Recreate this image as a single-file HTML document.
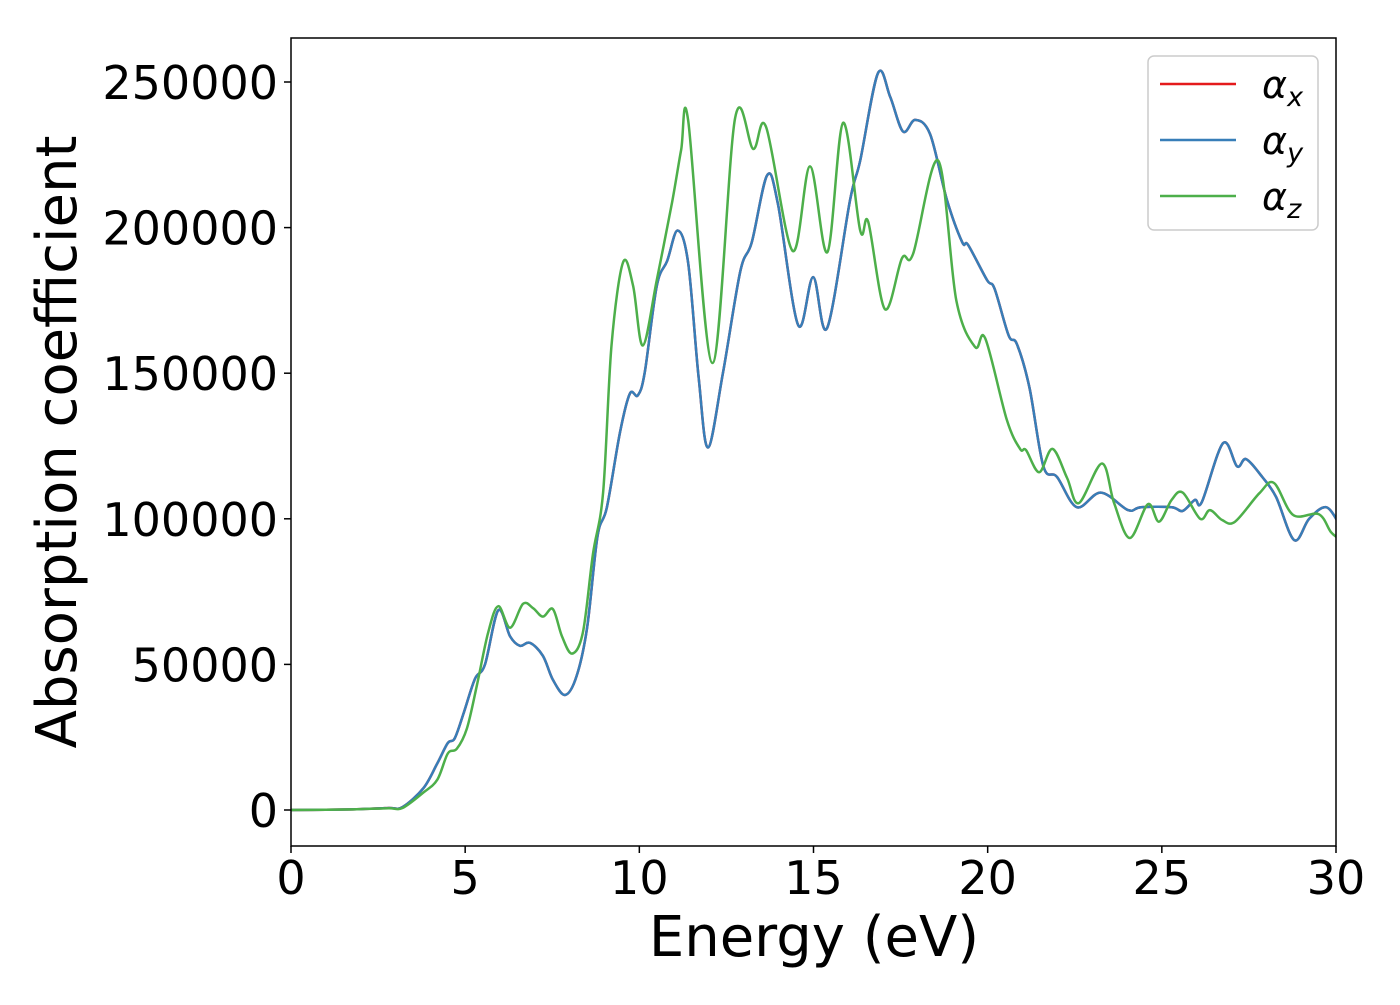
<!DOCTYPE html>
<html><head><meta charset="utf-8"><style>
html,body{margin:0;padding:0;background:#fff;}
svg text{font-family:"DejaVu Sans","Liberation Sans",sans-serif;fill:#000;}
</style></head><body>
<svg id="chart" width="1400" height="1000" viewBox="0 0 1400 1000" xmlns="http://www.w3.org/2000/svg">
<rect width="1400" height="1000" fill="#fff"/>
<g id="series"></g>
<g id="axes"></g>
<text x="814" y="956" font-size="56" text-anchor="middle">Energy (eV)</text>
<text transform="translate(76,442) rotate(-90)" font-size="56" text-anchor="middle">Absorption coefficient</text>
<g>
<rect x="1148" y="56" width="170" height="174" rx="6" fill="#fff" stroke="#ccc" stroke-width="1.5"/>
<g><line x1="1160" y1="84" x2="1236" y2="84" stroke="#e41a1c" stroke-width="2.5"/><text x="1262" y="98" font-size="38" font-style="italic">α<tspan font-size="27" dy="8">x</tspan></text></g>
<g><line x1="1160" y1="140" x2="1236" y2="140" stroke="#377eb8" stroke-width="2.5"/><text x="1262" y="154" font-size="38" font-style="italic">α<tspan font-size="27" dy="8">y</tspan></text></g>
<g><line x1="1160" y1="196" x2="1236" y2="196" stroke="#4daf4a" stroke-width="2.5"/><text x="1262" y="210" font-size="38" font-style="italic">α<tspan font-size="27" dy="8">z</tspan></text></g>
</g>
</svg>
<script>
const xTicks=[0,5,10,15,20,25,30];
const yTicks=[0,50000,100000,150000,200000,250000];
const eBlue=[0,1,2,2.8,3.2,3.8,4.2,4.5,4.7,4.95,5.28,5.57,5.95,6.29,6.57,6.86,7.23,7.52,7.87,8.2,8.5,8.8,9.07,9.45,9.73,9.96,10.16,10.5,10.8,11.1,11.4,11.7,11.97,12.4,12.9,13.23,13.67,13.98,14.56,14.99,15.39,16.05,16.34,16.85,17.2,17.57,17.92,18.35,18.83,19.27,19.44,19.98,20.2,20.6,20.84,21.2,21.6,21.99,22.56,23.25,24.03,24.4,25.28,25.6,25.95,26.15,26.76,27.16,27.42,27.88,28.28,28.8,29.23,29.72,30.1];
const vBlue=[0,0.1,0.3,0.7,1,7.5,16,23,24.6,33,45,50,68.6,59.6,56.4,57.4,53,44.7,39.5,46,62.6,94,104,130,143,142.4,150.6,180,188.6,199,188,149,124.5,150,185,195,218,208,166.5,183,165.5,209.5,223,253,245,233,237,232,209.5,195,194,182,179,163,160,145,118,114.4,104,109,103,104,104,102.7,106.5,105.8,126,118,120.5,114.4,107.5,92.7,100,104,98];
const eGreen=[0,1,2,2.8,3.2,3.8,4.2,4.5,4.76,5.05,5.34,5.66,5.95,6.29,6.66,6.95,7.23,7.52,7.78,8.07,8.38,8.67,8.96,9.2,9.53,9.82,10.1,10.5,10.94,11.2,11.4,12.1,12.75,13.27,13.64,14.4,14.9,15.4,15.85,16.34,16.57,17.05,17.54,17.86,18.58,19.1,19.64,19.93,20.55,20.93,21.1,21.48,21.86,22.28,22.62,23.28,23.63,24.08,24.6,24.92,25.28,25.6,26.1,26.38,26.73,27.1,27.8,28.22,28.77,29.5,29.85,30.1];
const vGreen=[0,0.1,0.3,0.6,0.7,6,10.4,19.4,21,28,43,61,70,62.6,70.8,69.3,66.4,69,59.6,53.7,61,88,109,159.5,188,180,159.5,182,208.7,226.6,237,153.5,237.6,227,234.5,192,221,191.6,236,199,202,172,189.5,191,223,175,159,162,134,124,123.6,116,124,114,105.4,119,105.4,93.4,105,99,106.5,109,100,103,99.6,99,108.8,112.3,101.3,101.6,95.5,93];
const X0=291,X1=1336,Y0=38,Y1=846;
function sx(e){return X0+(e-0)/(30-0)*(X1-X0);}
function sy(v){return 810-(v/250000)*(810-82);}
function pathFor(es,vs){
  const p=es.map((e,i)=>[sx(Math.min(e,30.5)),sy(vs[i]*1000)]);
  let d='M'+p[0][0].toFixed(1)+','+p[0][1].toFixed(1);
  for(let i=0;i<p.length-1;i++){
    const a=p[Math.max(i-1,0)],b=p[i],c=p[i+1],n=p[Math.min(i+2,p.length-1)];
    const c1=[b[0]+(c[0]-a[0])/6,b[1]+(c[1]-a[1])/6],c2=[c[0]-(n[0]-b[0])/6,c[1]-(n[1]-b[1])/6];
    d+=' C'+c1.map(v=>v.toFixed(1)).join(',')+' '+c2.map(v=>v.toFixed(1)).join(',')+' '+c[0].toFixed(1)+','+c[1].toFixed(1);
  }
  return d;
}
const NS='http://www.w3.org/2000/svg';
const g=document.getElementById('series');
const clip=document.createElementNS(NS,'clipPath');clip.setAttribute('id','pc');
const cr=document.createElementNS(NS,'rect');cr.setAttribute('x',X0);cr.setAttribute('y',Y0);cr.setAttribute('width',X1-X0);cr.setAttribute('height',Y1-Y0);
clip.appendChild(cr);document.getElementById('chart').appendChild(clip);
g.setAttribute('clip-path','url(#pc)');
[['line-alpha-x','#e41a1c',eBlue,vBlue],['line-alpha-z','#4daf4a',eGreen,vGreen],['line-alpha-y','#377eb8',eBlue,vBlue]].forEach(s=>{
  const el=document.createElementNS(NS,'path');
  el.setAttribute('d',pathFor(s[2],s[3]));
  el.setAttribute('fill','none');el.setAttribute('stroke',s[1]);el.setAttribute('stroke-width','2.5');
  
  
  g.appendChild(el);
});
// reorder: green drawn over blue where appropriate? matplotlib order x,y,z: z on top
g.appendChild(g.children[1]);
const ax=document.getElementById('axes');
const fr=document.createElementNS(NS,'rect');
fr.setAttribute('x',X0);fr.setAttribute('y',Y0);fr.setAttribute('width',X1-X0);fr.setAttribute('height',Y1-Y0);
fr.setAttribute('fill','none');fr.setAttribute('stroke','#000');fr.setAttribute('stroke-width','1.5');


ax.appendChild(fr);
xTicks.forEach(t=>{
  const x=sx(t);
  const l=document.createElementNS(NS,'line');l.setAttribute('x1',x);l.setAttribute('x2',x);l.setAttribute('y1',Y1);l.setAttribute('y2',Y1+7);l.setAttribute('stroke','#000');l.setAttribute('stroke-width','1.5');
  
  
  ax.appendChild(l);
  const tx=document.createElementNS(NS,'text');tx.setAttribute('x',x);tx.setAttribute('y',Y1+48);tx.setAttribute('font-size','46');tx.setAttribute('text-anchor','middle');tx.textContent=t;
  
  
  ax.appendChild(tx);
});
yTicks.forEach(t=>{
  const y=sy(t);
  const l=document.createElementNS(NS,'line');l.setAttribute('x1',X0-7);l.setAttribute('x2',X0);l.setAttribute('y1',y);l.setAttribute('y2',y);l.setAttribute('stroke','#000');l.setAttribute('stroke-width','1.5');
  
  
  ax.appendChild(l);
  const tx=document.createElementNS(NS,'text');tx.setAttribute('x',X0-13);tx.setAttribute('y',y+17);tx.setAttribute('font-size','46');tx.setAttribute('text-anchor','end');tx.textContent=t;
  
  
  ax.appendChild(tx);
});
</script>
</body></html>
